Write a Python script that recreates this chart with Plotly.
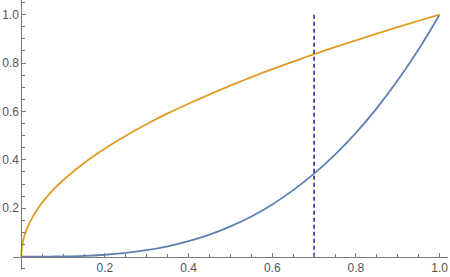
import plotly.graph_objects as go

# values
x_vals = [0, 0.001, 0.0025, 0.005, 0.01, 0.02, 0.04, 0.06, 0.08, 0.1, 0.15, 0.2, 0.25,
          0.3, 0.35, 0.4, 0.45, 0.5, 0.55, 0.6, 0.65, 0.7, 0.75, 0.8, 0.85, 0.9, 0.95, 1.0]
orange_vals = [0, 0.032, 0.05, 0.071, 0.1, 0.141, 0.2, 0.245, 0.283, 0.316, 0.387, 0.447, 0.5,
               0.548, 0.592, 0.632, 0.671, 0.707, 0.742, 0.775, 0.806, 0.837, 0.866, 0.894,
               0.922, 0.949, 0.975, 1.0]
blue_vals = [0, 0, 0, 0, 0, 0, 0, 0, 0.001, 0.001, 0.003, 0.008, 0.016,
             0.027, 0.043, 0.064, 0.091, 0.125, 0.166, 0.216, 0.275, 0.343, 0.422, 0.512,
             0.614, 0.729, 0.857, 1.0]
dashed_x = [0.7, 0.7]
dashed_y = [0, 1.0]
tick_vals = [0.2, 0.4, 0.6, 0.8, 1.0]
tick_text = ["0.2", "0.4", "0.6", "0.8", "1.0"]

fig = go.Figure()
fig.add_trace(go.Scatter(x=x_vals, y=blue_vals, mode="lines",
                         line=dict(color="#5E81B5", width=1.8, shape="spline"),
                         hoverinfo="skip"))
fig.add_trace(go.Scatter(x=x_vals, y=orange_vals, mode="lines",
                         line=dict(color="#E19C24", width=1.8, shape="spline"),
                         hoverinfo="skip"))
fig.add_trace(go.Scatter(x=dashed_x, y=dashed_y, mode="lines",
                         line=dict(color="#1a1a96", width=1.5, dash="4px,3px"),
                         hoverinfo="skip"))

axis_color = "#7a7a7a"
label_font = dict(family="Liberation Sans, Arial, sans-serif", size=12, color="#555555")

fig.update_layout(
    width=450, height=277,
    margin=dict(l=0, r=0, t=0, b=0),
    paper_bgcolor="white", plot_bgcolor="white",
    showlegend=False,
    xaxis=dict(domain=[0.028, 0.996], range=[-0.0208, 1.0206],
               anchor="free", position=0.0733,
               showgrid=False, zeroline=False,
               showline=True, linecolor=axis_color, linewidth=1,
               tickmode="array", tickvals=tick_vals, ticktext=tick_text,
               ticks="inside", ticklen=4, tickcolor=axis_color, tickwidth=1,
               tickfont=label_font,
               minor=dict(tickmode="linear", tick0=0, dtick=0.05, ticks="inside",
                          ticklen=2.5, tickcolor=axis_color, tickwidth=1, showgrid=False)),
    yaxis=dict(domain=[0.0253, 1.0], range=[-0.055, 1.0607],
               anchor="free", position=0.0476,
               showgrid=False, zeroline=False,
               showline=True, linecolor=axis_color, linewidth=1,
               tickmode="array", tickvals=tick_vals, ticktext=tick_text,
               ticks="inside", ticklen=4, tickcolor=axis_color, tickwidth=1,
               tickfont=label_font,
               minor=dict(tickmode="linear", tick0=0, dtick=0.05, ticks="inside",
                          ticklen=2.5, tickcolor=axis_color, tickwidth=1, showgrid=False)),
)

fig.write_html("out.html")
